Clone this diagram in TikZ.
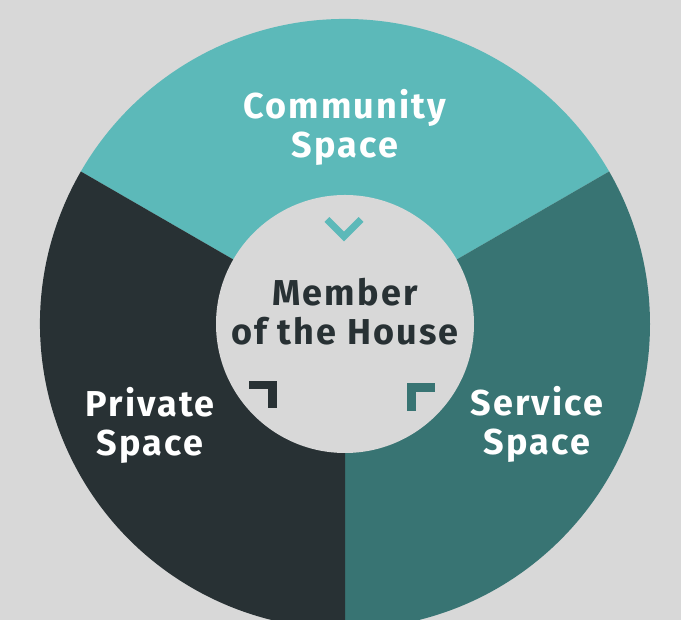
\documentclass[tikz,border=0pt]{standalone}
\usepackage{fontspec}
\setmainfont{Fira Sans}
\newfontfamily\lblfont[LetterSpace=6]{Fira Sans}
\definecolor{bg}{HTML}{D8D8D8}
\definecolor{teal}{HTML}{5CB9B9}
\definecolor{dteal}{HTML}{387473}
\definecolor{dark}{HTML}{283134}
\begin{document}
\begin{tikzpicture}[x=1pt,y=1pt,
  lbl/.style={font={\lblfont\fontsize{36}{39.5}\selectfont\bfseries}, align=center, inner sep=0pt, anchor=base},
  markline/.style={line cap=butt, line join=miter}]
\useasboundingbox (0,0) rectangle (681,620);
\clip (0,0) rectangle (681,620);
\fill[bg] (0,0) rectangle (681,620);
\coordinate (c) at (345,296);
\fill[teal] (c) -- ++(30:305) arc[start angle=30, end angle=150, radius=305] -- cycle;
\fill[dteal] (c) -- ++(-90:305) arc[start angle=-90, end angle=30, radius=305] -- cycle;
\fill[dark] (c) -- ++(150:305) arc[start angle=150, end angle=270, radius=305] -- cycle;
\fill[bg] (c) circle[radius=129];
\draw[teal, line width=7, markline] (327,400.5) -- (344,383.5) -- (361,400.5);
\draw[dark, line width=8.5, markline] (249.3,235) -- (272.5,235) -- (272.5,211.7);
\draw[dteal, line width=9, markline] (411.7,209) -- (411.7,232) -- (435,232);
\node[lbl, text=white] (community) at (345,462) {Community\\Space};
\node[lbl, text=dark] (member) at (345,275) {Member\\of the House};
\node[lbl, text=white] (private) at (150,164) {Private\\Space};
\node[lbl, text=white] (service) at (537,165.3) {Service\\Space};
\end{tikzpicture}
\end{document}
